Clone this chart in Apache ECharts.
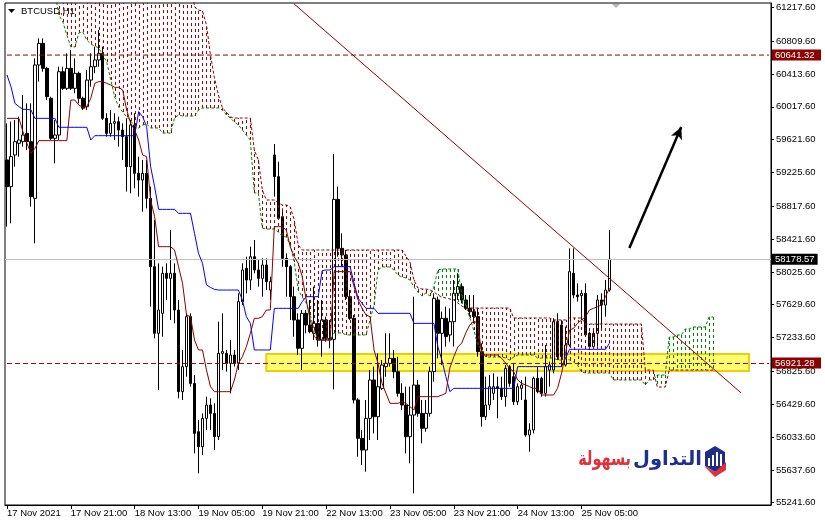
<!DOCTYPE html>
<html><head><meta charset="utf-8">
<script src="https://cdn.jsdelivr.net/npm/echarts@6/dist/echarts.min.js"></script>
<style>html,body{margin:0;padding:0;background:#fff}#c{width:825px;height:525px}</style>
</head><body><div id="c"></div>
<script>
// ---- tick labels ----
const timeLabels = ['17 Nov 2021','17 Nov 21:00','18 Nov 13:00','19 Nov 05:00','19 Nov 21:00','22 Nov 13:00','23 Nov 05:00','23 Nov 21:00','24 Nov 13:00','25 Nov 05:00'];
const priceTicks = [61217.6,60809.6,60413.6,60017.6,59621.6,59225.6,58817.6,58421.6,58025.6,57629.6,57233.6,56825.6,56429.6,56033.6,55637.6,55241.6];

// ---- BTCUSD H1 candles ----
const open = [59376,59054,59436,59577,59597,59697,59597,58913,60522,60783,
 60481,60120,59637,59677,60441,60240,60481,60240,60421,60120,
 60019,60340,60501,60582,60662,59878,59697,59818,59838,59737,
 59657,59295,59798,59215,59134,59215,58913,58089,57285,57526,
 58009,57948,58009,57566,56581,56883,57486,56681,56098,55917,
 56259,56420,56319,56038,57043,57043,56923,57023,56923,57667,
 58069,57928,58209,58049,57948,58109,57807,59436,59175,58692,
 58189,58089,57727,57446,57104,57526,57385,57285,57405,57204,
 57446,57224,57212,58901,58310,58230,57727,57466,56481,56018,
 55877,56259,56722,56279,56621,56883,56923,56983,56822,56561,
 56420,56038,56299,56661,56319,56139,56319,56822,57687,57285,
 57466,57265,57425,57767,57848,57687,57586,57546,57486,57064,
 56279,56420,56561,56641,56621,56521,56883,56762,56460,56621,
 56481,56058,56119,56742,56742,56561,56842,56842,57425,57385,
 56903,57144,58009,57747,57739,57767,57285,57124,57285,57687,
 57626,57807];
const high = [59818,59838,59858,59898,60160,60059,60059,60602,60843,60843,
 60501,60140,59858,60501,60501,60662,60702,60602,60441,60140,
 60461,60662,60743,60944,60743,59939,59979,59939,59898,59818,
 59878,59858,59939,59416,59376,59376,59054,58652,58129,58089,
 58129,58531,58129,57687,57084,57526,57526,56782,56239,56319,
 56521,56501,56440,57425,57526,57084,57204,57084,57767,58129,
 58209,58330,58410,58169,58189,58189,57968,59569,59355,58792,
 58250,58109,57848,57526,57566,57566,57687,57848,57687,57687,
 57486,57446,59448,59054,58491,58290,57807,57506,56501,56119,
 56481,56842,56883,57043,56963,57285,57285,57084,57003,56681,
 56641,56641,57727,56722,56481,56481,56883,57767,57727,57546,
 57606,57586,57928,58009,57888,57747,57747,57747,57586,57164,
 56762,56782,56802,56762,56762,56903,56903,56923,56681,56722,
 56762,56199,56762,56883,56762,57144,56943,57466,57526,57446,
 57365,58310,58310,57888,57807,57888,57305,57345,57747,57767,
 57928,58531];
const low = [58571,58612,59295,59416,59536,59496,58813,58370,60321,60441,
 60099,59617,59335,59617,60220,60220,60220,60180,60059,59979,
 59979,60260,60421,60501,59858,59657,59657,59617,59536,59376,
 58994,58974,59034,58933,58752,58792,57606,57224,56601,57245,
 57687,57446,57405,56501,56481,56762,56641,55837,55596,55817,
 56119,56119,55877,55998,56842,56822,56561,56883,56842,57626,
 57767,57807,58009,57848,57727,57807,57687,58933,58652,58089,
 57727,57446,57245,57023,56842,57285,57285,57204,57124,57003,
 57184,57104,56609,58209,58089,57687,57446,56440,55797,55696,
 55616,55998,56078,55998,56601,56762,56883,56742,56521,56360,
 55837,55716,55355,56279,55958,56098,56279,56702,56983,56903,
 57124,57184,57124,57687,57647,57566,57486,57405,57003,56159,
 56239,56360,56481,56259,56481,56400,56641,56420,56420,56481,
 56038,55857,56078,56561,56521,56521,56641,56802,56963,56883,
 56883,57124,57707,57667,57446,57245,57084,57104,57124,57345,
 57486,57787];
const close = [59054,59416,59597,59617,59677,59597,58933,60522,60783,60481,
 60140,59637,59677,60441,60240,60481,60240,60421,60120,60000,
 60340,60501,60582,60662,59878,59697,59818,59838,59737,59657,
 59295,59798,59215,59134,59215,58913,58089,57285,57566,58009,
 57948,58009,57566,56581,56883,57486,56681,56078,55917,56259,
 56420,56319,56038,57043,57064,56923,57023,56923,57667,58049,
 57928,58209,58049,57948,58109,57908,57908,59175,58672,58189,
 58089,57727,57446,57104,57526,57385,57305,57405,57204,57446,
 57224,57204,58901,58310,58230,57727,57466,56481,56018,55877,
 56259,56722,56279,56641,56903,56923,56983,56822,56561,56420,
 56038,56299,56661,56319,56139,56319,56822,57707,57285,57466,
 57245,57425,57767,57848,57687,57586,57546,57486,57064,56279,
 56420,56641,56641,56621,56521,56862,56681,56460,56641,56661,
 56058,56119,56742,56581,56561,56883,56903,57425,57003,57003,
 57144,58029,57747,57727,57767,57265,57124,57285,57687,57626,
 57807,58178.57];

// ---- Ichimoku ----
const tenkan = [59878,59878,59878,59878,59717,59577,59456,59516,59609,59609,
 59609,59609,59609,59609,59609,59609,60099,60099,60039,60011,
 60019,60120,60300,60321,60321,60300,60280,60252,60252,60220,
 59979,59818,59737,59617,59436,59416,58893,58692,58330,58330,
 58330,58330,58290,58089,57888,57506,57486,57204,57084,57084,
 56842,56641,56581,56581,56581,56581,56581,56722,56923,57003,
 57124,57285,57466,57466,57486,57566,57566,58571,58571,58571,
 58531,58330,58209,58129,57968,57687,57446,57245,57204,57204,
 57204,57204,58029,58029,58029,58029,58029,57848,57687,57586,
 57506,57486,57084,56923,56681,56561,56440,56440,56440,56460,
 56440,56400,56360,56521,56521,56521,56521,56521,56521,56541,
 56561,56866,57003,57120,57168,57289,57385,57433,57405,57023,
 57023,57023,57023,57023,56983,56923,56862,56822,56722,56681,
 56661,56641,56621,56621,56541,56541,56541,56541,56621,56802,
 57043,57325,57345,57405,57446,57486,57566,57586,57606,57626,
 57727,57827];
const kijun = [60401,60260,60059,60019,59987,59987,59979,59878,59878,59878,
 59878,59878,59878,59770,59770,59770,59770,59770,59770,59770,
 59770,59617,59669,59669,59669,59669,59669,59669,59669,59669,
 59669,59669,59669,59959,59898,59778,59295,59054,58780,58780,
 58780,58780,58780,58732,58732,58732,58732,58491,58250,58129,
 57868,57839,57815,57807,57807,57807,57807,57807,57807,57687,
 57486,57405,57084,57084,57084,57084,57084,57586,57586,57586,
 57586,57586,57586,57586,57667,57727,57727,57727,57727,58041,
 58049,58049,58089,58089,58089,58089,58089,57888,57707,57647,
 57586,57586,57586,57526,57526,57526,57526,57526,57526,57526,
 57526,57526,57405,57405,57405,57405,57405,57405,57124,56963,
 56762,56581,56621,56621,56621,56621,56621,56621,56621,56621,
 56621,56621,56621,56621,56621,56621,56621,56621,56883,56883,
 56883,56883,56883,56883,56883,56883,56883,56883,56883,56883,
 56983,57092,57092,57092,57092,57092,57092,57092,57092,57092,
 57092,57164];
const spanA = [null,null,null,null,null,null,null,null,null,null,
 null,null,61400,61125,61040,60884,60739,60739,60908,60920,
 60823,60775,60751,60727,60642,60558,60341,60136,60015,59955,
 59894,59846,59786,59762,59798,59810,59762,59762,59762,59701,
 59701,59701,59882,59919,59906,59906,59906,59906,59979,60003,
 60003,60003,60003,60003,59979,59919,59882,59834,59798,59738,
 59677,59617,58978,58978,58555,58543,58543,58543,58507,58459,
 58447,58350,58145,57808,57723,57651,57506,57325,57204,57204,
 57204,57204,57289,57289,57289,57265,57265,57265,57265,57265,
 57265,57446,57627,58049,58085,58085,58085,58049,57988,57964,
 57952,57928,57844,57783,57735,57771,57735,57844,58049,58061,
 58061,58061,58061,58061,57747,57627,57470,57325,57144,57084,
 56999,56999,56999,56999,56999,56987,56963,56999,57023,57023,
 57023,57023,57023,56987,56987,56987,56987,56987,56963,56963,
 56987,56963,56939,56903,56818,56806,56806,56806,56806,56806,
 56806,56806,56722,56722,56722,56722,56722,56722,56722,56722,
 56662,56722,56722,56782,56782,56782,57240,57240,57265,57265,
 57337,57337,57361,57361,57361,57361,57482,57482];
const spanB = [61600,61600,61600,61600,61600,61600,61600,61600,61600,61600,
 61600,61600,61600,61600,61600,61600,61600,61600,61600,61600,
 61600,61600,61600,61600,61600,61600,61600,61600,61600,61600,
 61600,61600,61600,61600,61600,61600,61600,61600,61600,61600,
 61600,61600,61600,61600,61600,61600,61600,61221,61185,61173,
 61004,60642,60365,60160,60003,59955,59894,59882,59882,59882,
 59882,59882,59496,59376,59014,58893,58893,58893,58857,58833,
 58833,58809,58652,58350,58290,58290,58290,58290,58290,58290,
 58290,58290,58290,58290,58290,58290,58290,58290,58290,58290,
 58290,58290,58290,58290,58290,58290,58290,58290,58290,58290,
 58218,58145,57928,57832,57819,57819,57808,57783,57747,57723,
 57711,57699,57687,57651,57615,57590,57590,57590,57590,57590,
 57590,57590,57590,57590,57590,57590,57590,57470,57470,57470,
 57470,57470,57470,57470,57470,57470,57470,57446,57446,57446,
 57446,57470,57470,57470,57470,57397,57397,57397,57397,57397,
 57397,57397,57397,57397,57397,57397,57397,57397,57397,57397,
 56842,56842,56842,56637,56637,56637,56842,56842,56842,56842,
 56842,56842,56842,56842,56842,56842,56842,56842];

// ---- levels & drawings (price values) ----
const resistanceLevel = 60641.32;
const supportLevel = 56921.28;
const bidLevel = 58178.57;
const trendLine = [[72, 61257], [184, 56566]];
const arrowLine = [[156, 58314], [169, 59774]];
const zoneBox = [[65, 57035], [186, 56830]];

const BAR_SLOTS = 192;
const cats = Array.from({length: BAR_SLOTS}, (_, i) => String(i));
const candles = open.map((o, i) => [o, close[i], low[i], high[i]]);
const kumo = spanA.map((a, i) => [i, a, spanB[i]]).filter(d => d[1] != null && d[2] != null);
const spanLine = (v) => [[0, v], [BAR_SLOTS - 1, v]];

const MAROON = '#8b0000', GREEN = '#008000', HATCH_RED = '#9a0000', LEVEL_RED = '#a00000';
const FONT = '"Liberation Sans", Arial, sans-serif';
const showIdx = (idx) => idx % 16 === 0 && idx / 16 < timeLabels.length;

const baseGraphic = [
  {type: 'polygon', shape: {points: [[8, 9], [15, 9], [11.5, 13]]}, style: {fill: '#000'}},
  {type: 'text', x: 21, y: 11, style: {text: 'BTCUSD,H1', font: '9.5px ' + FONT, fill: '#000', verticalAlign: 'middle'}},
  {type: 'polygon', shape: {points: [[612, 4], [620, 4], [616, 8]]}, style: {fill: '#b4b4b4'}},
  // logo
  {type: 'text', x: 702, y: 460, style: {text: 'التداول', font: 'bold 19.5px "DejaVu Sans"', fill: '#1e2f8c', align: 'right', verticalAlign: 'middle'}},
  {type: 'text', x: 631, y: 460, scaleX: 0.72, originX: 0, originY: 0, style: {text: 'بسهولة', font: 'bold 20px "DejaVu Sans"', fill: '#e2303a', align: 'right', verticalAlign: 'middle'}},
  {type: 'polygon', shape: {points: [[705, 452], [715, 446], [725, 452], [725, 466], [715, 472], [705, 466]]}, style: {fill: '#1f2d86'}},
  {type: 'rect', shape: {x: 708, y: 458, width: 2, height: 8}, style: {fill: '#fff'}},
  {type: 'rect', shape: {x: 712, y: 455, width: 2, height: 11}, style: {fill: '#fff'}},
  {type: 'rect', shape: {x: 716, y: 452, width: 2, height: 14}, style: {fill: '#fff'}},
  {type: 'rect', shape: {x: 720, y: 454, width: 2, height: 12}, style: {fill: '#fff'}},
  {type: 'polygon', shape: {points: [[704, 466], [715, 477], [726, 470], [726, 462], [715, 472]]}, style: {fill: '#e2303a'}}
];

const chart = echarts.init(document.getElementById('c'), null, {renderer: 'canvas'});
chart.setOption({
  animation: false,
  backgroundColor: '#ffffff',
  grid: {left: 5, right: 54, top: 3, bottom: 20, show: true, borderColor: '#000', borderWidth: 1, backgroundColor: '#fff'},
  xAxis: {
    type: 'category', data: cats, boundaryGap: true,
    axisLine: {lineStyle: {color: '#000', width: 1}},
    axisTick: {show: true, interval: (i) => showIdx(i), alignWithLabel: true, length: 4, lineStyle: {color: '#000'}},
    axisLabel: {interval: (i) => showIdx(i), formatter: (v) => timeLabels[Number(v) / 16] || '',
      align: 'left', margin: 3, fontSize: 9.5, fontFamily: FONT, color: '#000'},
    splitLine: {show: false}
  },
  yAxis: {
    type: 'value', position: 'right', min: 55213.9, max: 61269.5, scale: true,
    axisLine: {show: true, lineStyle: {color: '#000'}},
    axisTick: {show: true, length: 3, customValues: priceTicks, lineStyle: {color: '#000'}},
    axisLabel: {customValues: priceTicks, formatter: (v) => v.toFixed(2), fontSize: 9.5, fontFamily: FONT, color: '#000', margin: 5},
    splitLine: {show: false}
  },
  series: [
    {
      type: 'line', data: [], z: 1, clip: false, silent: true,
      markArea: {silent: true,
        itemStyle: {color: '#ffff70', borderColor: '#f0cc10', borderWidth: 2},
        data: [[{coord: zoneBox[0]}, {coord: zoneBox[1]}]]}
    },
    {
      type: 'line', data: [], z: 2, clip: false, silent: true,
      markLine: {silent: true, symbol: 'none',
        lineStyle: {color: '#c0c0c0', type: 'solid', width: 1},
        label: {show: true, position: 'end', distance: 1, formatter: (p) => p.value.toFixed(2),
          color: '#fff', backgroundColor: '#000', padding: [1, 3, 0, 3], fontSize: 9.5, fontFamily: FONT},
        data: [{yAxis: bidLevel}]}
    },
    {
      type: 'candlestick', data: candles, barWidth: 3, z: 3,
      itemStyle: {color: '#ffffff', color0: '#000000', borderColor: '#000000', borderColor0: '#000000', borderWidth: 1}
    },
    {
      type: 'custom', data: kumo, z: 4, clip: true, silent: true,
      encode: {x: 0, y: [1, 2]},
      renderItem: function (params, api) {
        const a = api.value(1), b = api.value(2);
        const p1 = api.coord([api.value(0), a]);
        const p2 = api.coord([api.value(0), b]);
        const x = Math.round(p1[0]) + 0.5;
        return {type: 'line', shape: {x1: x, y1: p1[1], x2: x, y2: p2[1]},
          style: {stroke: a > b ? GREEN : HATCH_RED, lineWidth: 1, lineDash: [3, 3]}};
      }
    },
    {type: 'line', data: spanA, z: 5, symbol: 'none', silent: true, lineStyle: {color: GREEN, width: 1, type: [3, 2]}},
    {type: 'line', data: spanB, z: 5, symbol: 'none', silent: true, lineStyle: {color: MAROON, width: 1, type: [3, 2]}},
    {type: 'line', data: kijun, z: 6, symbol: 'none', silent: true, lineStyle: {color: '#0000ff', width: 1}},
    {type: 'line', data: tenkan, z: 6, symbol: 'none', silent: true, lineStyle: {color: MAROON, width: 1}},
    {type: 'line', data: spanLine(resistanceLevel), z: 7, symbol: 'none', silent: true, clip: false,
      lineStyle: {color: LEVEL_RED, width: 1, type: [5, 3]}},
    {type: 'line', data: spanLine(supportLevel), z: 7, symbol: 'none', silent: true, clip: false,
      lineStyle: {color: LEVEL_RED, width: 1, type: [5, 3]}},
    {
      type: 'line', data: [], z: 7, clip: false, silent: true,
      markLine: {silent: true, symbol: 'none', label: {show: false},
        lineStyle: {type: 'solid', color: MAROON, width: 1},
        data: [[{coord: trendLine[0]}, {coord: trendLine[1]}]]}
    },
    {
      type: 'line', data: [], z: 8, clip: false, silent: true,
      markLine: {silent: true, symbol: ['none', 'arrow'], symbolSize: [9, 12],
        lineStyle: {color: '#000', type: 'solid', width: 2.5},
        label: {show: false},
        data: [[{coord: arrowLine[0]}, {coord: arrowLine[1]}]]}
    }
  ],
  graphic: baseGraphic
});

// price tags on the right axis, placed through the chart's own y scale
const tags = [resistanceLevel, supportLevel].map((v) => {
  const py = chart.convertToPixel({yAxisIndex: 0}, v);
  return [
    {type: 'rect', z: 100, shape: {x: 772, y: Math.round(py) - 5.5, width: 49, height: 11}, style: {fill: MAROON}},
    {type: 'text', z: 101, x: 775, y: Math.round(py) + 0.5, style: {text: v.toFixed(2), font: '9.5px ' + FONT, fill: '#fff', verticalAlign: 'middle'}}
  ];
}).flat();
chart.setOption({graphic: baseGraphic.concat(tags)});
</script>
</body></html>
